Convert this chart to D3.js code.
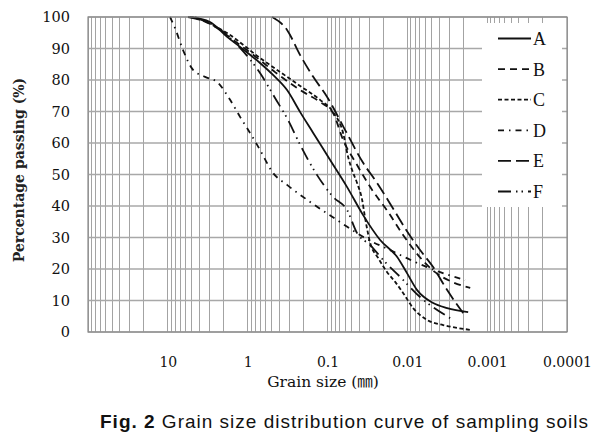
<!DOCTYPE html>
<html><head><meta charset="utf-8">
<script src="https://cdn.jsdelivr.net/npm/d3@7"></script>
<style>body{margin:0;background:#fff}</style>
</head><body>
<svg id="c" width="611" height="442"></svg>
<script>
// ---- data ----
const seriesNames = ["A", "B", "C", "D", "E", "F"];
const xTickValues = [10, 1, 0.1, 0.01, 0.001, 0.0001];
const xTickLabels = ["10", "1", "0.1", "0.01", "0.001", "0.0001"];
const yTickValues = [0, 10, 20, 30, 40, 50, 60, 70, 80, 90, 100];

const sizeA = [5.27, 2.96, 1.81, 1.245, 0.70, 0.481, 0.321, 0.220, 0.151, 0.0927, 0.0568, 0.0358, 0.0219, 0.0134, 0.0101, 0.00754, 0.00475, 0.00317, 0.00173];
const passA = [100, 98.4, 93.7, 90.5, 85.4, 81.6, 76.8, 69.8, 63.2, 54.6, 46.0, 37.1, 29.2, 23.8, 18.7, 13.3, 9.2, 7.6, 6.3];

const sizeB = [4.97, 2.96, 1.245, 0.70, 0.454, 0.220, 0.124, 0.0851, 0.0638, 0.0426, 0.0276, 0.0174, 0.0113, 0.00733, 0.00449, 0.00275, 0.00163];
const passB = [100, 97.8, 91.1, 86.3, 82.5, 76.8, 73.0, 69.5, 61.0, 53.0, 45.1, 38.1, 30.8, 24.4, 19.0, 15.9, 14.0];

const sizeC = [4.56, 1.81, 0.70, 0.321, 0.220, 0.124, 0.0851, 0.0638, 0.0552, 0.0492, 0.0426, 0.0368, 0.0338, 0.0292, 0.0232, 0.0179, 0.0142, 0.0113, 0.00846, 0.00565, 0.00356, 0.00238, 0.00154];
const passC = [100, 94.9, 87.0, 81.0, 78.1, 73.7, 69.8, 63.2, 55.6, 51.4, 47.3, 41.9, 36.2, 28.3, 23.5, 19.0, 15.9, 12.4, 7.6, 3.8, 2.2, 1.3, 0.6];

const sizeD = [9.38, 8.13, 6.45, 4.83, 3.42, 2.42, 1.66, 1.245, 0.933, 0.70, 0.481, 0.321, 0.165, 0.0695, 0.0338, 0.0164, 0.00798, 0.00388, 0.00189];
const passD = [100, 96.5, 89.5, 83.2, 81.0, 79.4, 73.7, 68.3, 63.2, 57.8, 50.5, 46.7, 41.3, 34.9, 29.8, 26.0, 22.2, 19.0, 16.5];

const sizeE = [0.494, 0.321, 0.220, 0.151, 0.101, 0.0601, 0.0358, 0.0239, 0.0155, 0.0107, 0.00692, 0.00475, 0.00317, 0.00200];
const passE = [100, 95.9, 87.9, 81.0, 74.6, 64.1, 53.7, 47.3, 39.7, 33.0, 26.0, 20.6, 13.3, 6.0];

const sizeF = [5.58, 2.56, 1.245, 0.70, 0.454, 0.312, 0.220, 0.135, 0.0851, 0.0568, 0.0426, 0.0292, 0.0190, 0.0123, 0.00692, 0.00291];
const passF = [100, 97.1, 90.2, 82.2, 74.3, 67.3, 59.4, 49.8, 42.9, 38.7, 31.4, 27.6, 22.2, 17.5, 11.1, 4.4];

// ---- layout / styles ----
const seriesSizes = [sizeA, sizeB, sizeC, sizeD, sizeE, sizeF];
const seriesPass = [passA, passB, passC, passD, passE, passF];
const dashes = [null, "7,5", "4,2.5", "6,5,1.5,5", "13,5", "13,5,1.5,4,1.5,5"];

const svg = d3.select("#c");
const plot = {left: 88, right: 567, top: 17, bottom: 332};
const x = d3.scaleLog().domain([100, 0.0001]).range([plot.left, plot.right]);
const y = d3.scaleLinear().domain([0, 100]).range([plot.bottom, plot.top]);
const serif = "'DejaVu Serif', 'Noto Sans CJK KR', serif";

svg.append("rect").attr("width", 611).attr("height", 442).attr("fill", "#fff");

// vertical log grid
const gridX = [];
for (let e = -4; e <= 1; e++) for (let m = 1; m <= 9; m++) gridX.push(+(m * Math.pow(10, e)).toPrecision(6));
gridX.push(100);
svg.append("g").selectAll("line").data(gridX).join("line")
  .attr("x1", d => x(d)).attr("x2", d => x(d))
  .attr("y1", plot.top).attr("y2", plot.bottom)
  .attr("stroke", "#a3a3a3").attr("stroke-width", 1).attr("shape-rendering", "crispEdges");

// horizontal grid
svg.append("g").selectAll("line").data(yTickValues).join("line")
  .attr("x1", plot.left).attr("x2", plot.right)
  .attr("y1", d => y(d)).attr("y2", d => y(d))
  .attr("stroke", "#a8a8a8").attr("stroke-width", 1.5);

// curves
const line = d3.line().x(d => x(d[0])).y(d => y(d[1])).curve(d3.curveMonotoneX);
seriesNames.forEach((n, i) => {
  const pts = seriesSizes[i].map((s, j) => [s, seriesPass[i][j]]);
  svg.append("path").datum(pts).attr("d", line)
    .attr("fill", "none").attr("stroke", "#111").attr("stroke-width", 1.8)
    .attr("stroke-dasharray", dashes[i]);
});

// legend
const leg = svg.append("g");
leg.append("rect").attr("x", 482).attr("y", 23).attr("width", 80).attr("height", 184).attr("fill", "#fff");
const legY = d3.scalePoint().domain(seriesNames).range([38.5, 191.5]);
seriesNames.forEach((n, i) => {
  leg.append("line").attr("x1", 498).attr("x2", 531)
    .attr("y1", legY(n)).attr("y2", legY(n))
    .attr("stroke", "#111").attr("stroke-width", 1.8).attr("stroke-dasharray", dashes[i]);
  leg.append("text").attr("x", 533).attr("y", legY(n) + 6.5)
    .attr("font-family", "'Liberation Serif', serif").attr("font-size", 18).attr("fill", "#111").text(n);
});

// border
svg.append("rect").attr("x", plot.left).attr("y", plot.top)
  .attr("width", plot.right - plot.left).attr("height", plot.bottom - plot.top)
  .attr("fill", "none").attr("stroke", "#8a8a8a").attr("stroke-width", 1.2);

// axes
const yAxis = svg.append("g").attr("transform", `translate(${plot.left},0)`)
  .call(d3.axisLeft(y).tickValues(yTickValues).tickSize(0).tickPadding(18));
yAxis.select(".domain").remove();
yAxis.selectAll("text").attr("font-family", serif).attr("font-size", 14.5).attr("fill", "#111");

const xAxis = svg.append("g").attr("transform", `translate(0,${plot.bottom})`)
  .call(d3.axisBottom(x).tickValues(xTickValues).tickFormat((d, i) => xTickLabels[i]).tickSize(0).tickPadding(25));
xAxis.select(".domain").remove();
xAxis.selectAll("text").attr("font-family", serif).attr("font-size", 14).attr("fill", "#111");

// axis titles
svg.append("text").attr("transform", "translate(24,170) rotate(-90)")
  .attr("text-anchor", "middle").attr("font-family", serif).attr("font-size", 14)
  .attr("font-weight", "bold").attr("fill", "#222").text("Percentage passing (%)");
svg.append("text").attr("x", 323).attr("y", 387)
  .attr("text-anchor", "middle").attr("font-family", serif).attr("font-size", 15.5)
  .attr("fill", "#111").text("Grain size (㎜)");

// caption
const cap = svg.append("text").attr("x", 100).attr("y", 428)
  .attr("font-family", "'Liberation Sans', Arial, sans-serif").attr("font-size", 19).attr("fill", "#111")
  .attr("textLength", 488).attr("lengthAdjust", "spacing");
cap.append("tspan").attr("font-weight", "bold").text("Fig. 2");
cap.append("tspan").text(" Grain size distribution curve of sampling soils");
</script></body></html>
